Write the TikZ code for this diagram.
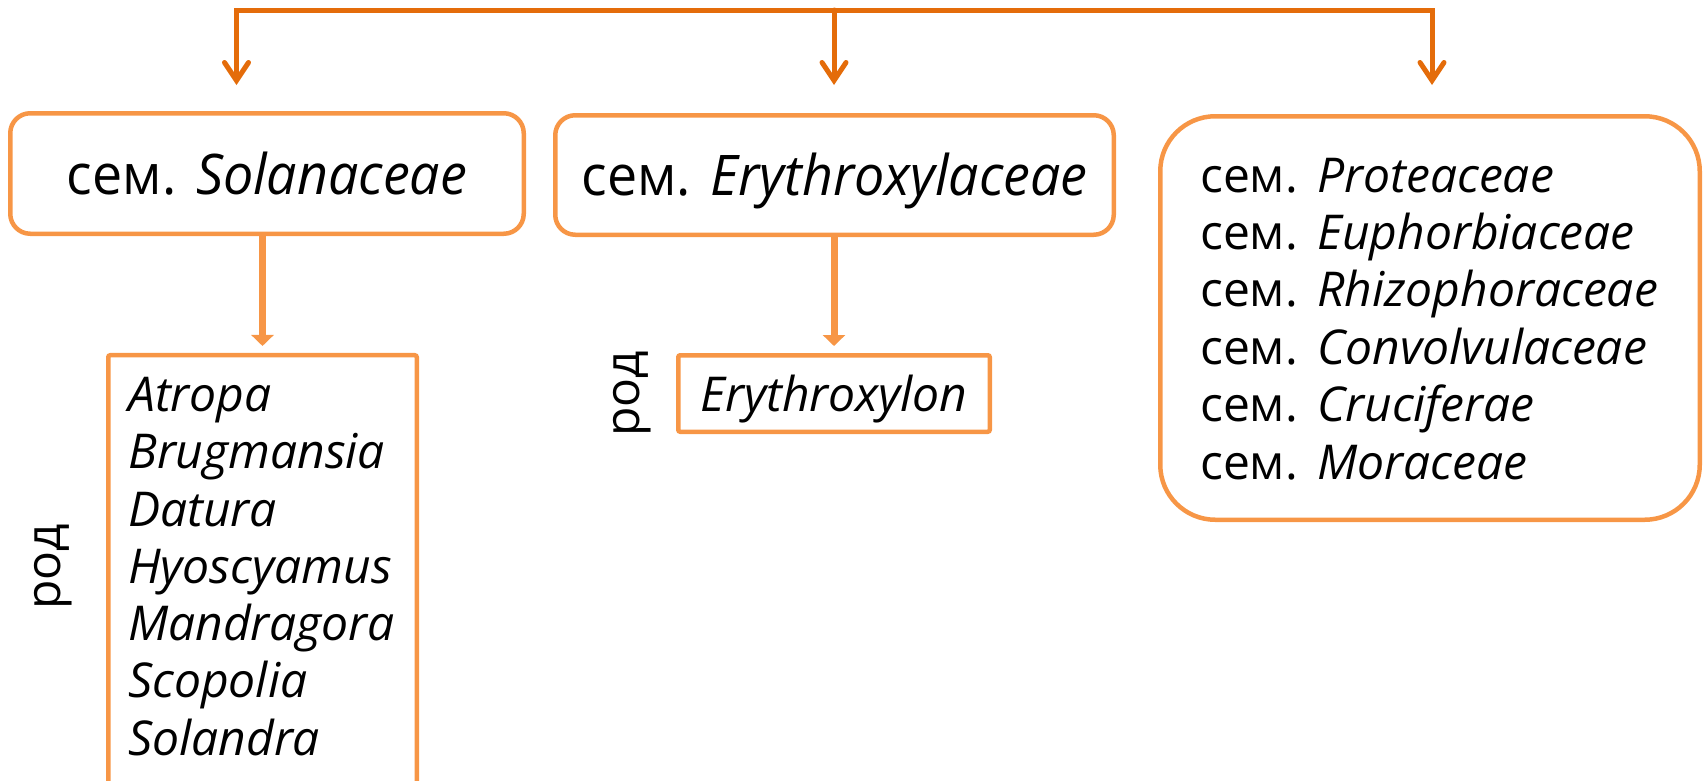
\documentclass[tikz,border=0pt]{standalone}
\usepackage{fontspec}
\setmainfont{Open Sans}
\newfontfamily\famfam[FakeStretch=0.96]{Open Sans}
\usetikzlibrary{arrows.meta}
\definecolor{boxor}{HTML}{F79646}
\definecolor{lineor}{HTML}{E46C0A}
\begin{document}
\begin{tikzpicture}[x=1pt,y=-1pt,
  famfont/.style={font=\famfam\fontsize{56}{60}\selectfont},
  listfont/.style={font=\fontsize{48}{57.5}\selectfont},
  fambox/.style={draw=boxor, line width=4.5pt, rounded corners=20pt, inner sep=0pt, text height=41pt, text depth=0pt},
  bigbox/.style={draw=boxor, line width=4.5pt, rounded corners=55pt, inner sep=0pt},
  genbox/.style={draw=boxor, line width=4.5pt, rounded corners=2pt, inner sep=0pt},
  topline/.style={draw=lineor, line width=5pt, line cap=round},
  barb/.style={-{Straight Barb[length=18pt,width=24pt,line cap=round]}},
  downarrow/.style={draw=boxor, line width=7pt, -{Triangle[length=11pt,width=22pt]}},
  roddy/.style={listfont, rotate=90, inner sep=0pt},
]
\useasboundingbox (0,0) rectangle (1705,780);

% family boxes
\node[fambox, famfont, minimum width=513.5pt, minimum height=120.5pt] (b1) at (267,173.5) {сем.\hspace{0.35em}\textit{Solanaceae}};
\node[fambox, famfont, minimum width=558.5pt, minimum height=119.5pt] (b2) at (834.5,175) {сем.\hspace{0.35em}\textit{Erythroxylaceae}};
\node[bigbox, minimum width=539.5pt, minimum height=403.5pt] (b3) at (1430,318) {};

% lines in box 3
\foreach \k/\t in {0/Proteaceae,1/Euphorbiaceae,2/Rhizophoraceae,3/Convolvulaceae,4/Cruciferae,5/Moraceae}
  \node[listfont, anchor=base west, inner sep=0pt] (f\k) at (1200,192+57.4*\k) {сем.\hspace{0.4em}\textit{\t}};

% genus boxes
\node[genbox, minimum width=308.5pt, minimum height=444.75pt] (g1) at (262.5,577.6) {};
\foreach \k/\t in {0/Atropa,1/Brugmansia,2/Datura,3/Hyoscyamus,4/Mandragora,5/Scopolia,6/Solandra}
  \node[listfont, anchor=base west, inner sep=0pt] (s\k) at (128,411.5+57.25*\k) {\textit{\t}};
\node[genbox, listfont, minimum width=311.5pt, minimum height=76.5pt, text height=36pt, text depth=0pt] (e1) at (834,393.5) {\textit{Erythroxylon}};

% rod labels
\node[roddy] (r1) at (53,567) {род};
\node[roddy] (r2) at (632,394) {род};

% top connector
\coordinate (d1) at (236.5,85);
\coordinate (d2) at (834,85);
\coordinate (d3) at (1432,85);
\coordinate (tm) at (834,10);
\coordinate (tr) at (1432,10);
\draw[topline, line cap=butt, {Straight Barb[length=18pt,width=24pt,line cap=round]}-{Straight Barb[length=18pt,width=24pt,line cap=round]}] (d1) |- (tr) -- (d3);
\draw[topline, barb] (tm) -- (d2);

% down arrows
\draw[downarrow, shorten >=7pt] (g1.north |- b1.south) -- (g1.north);
\draw[downarrow, shorten >=7pt] (e1.north |- b2.south) -- (e1.north);
\end{tikzpicture}
\end{document}
